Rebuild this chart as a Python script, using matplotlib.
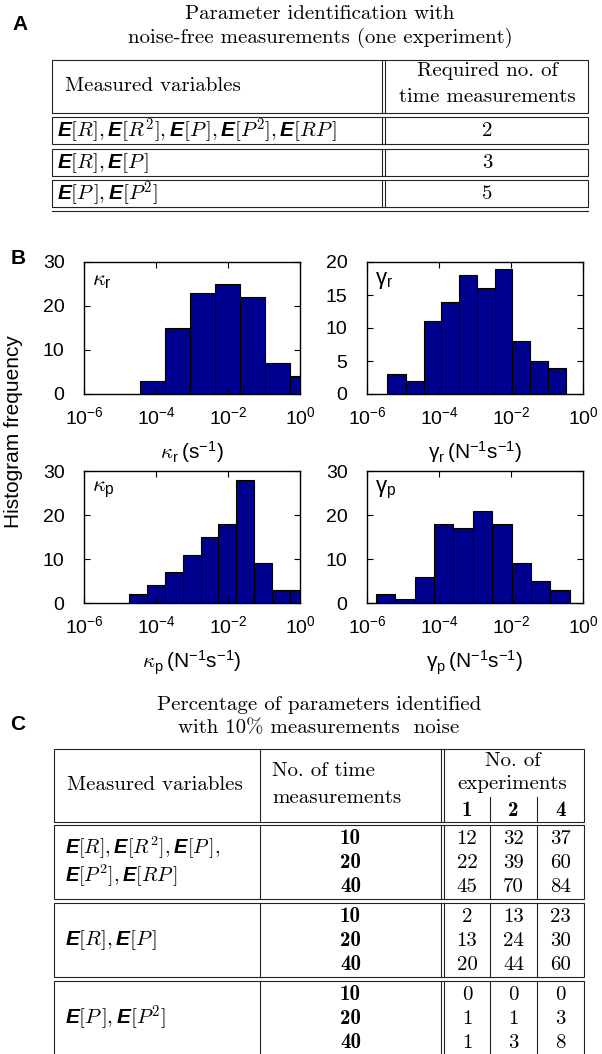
import numpy as np
import matplotlib
matplotlib.use("Agg")
import matplotlib.pyplot as plt
from matplotlib.patches import Rectangle
from matplotlib.ticker import NullLocator

# fonts: sans for the histograms, computer modern for the tables
plt.rcParams["font.family"] = "Liberation Sans"
plt.rcParams["mathtext.fontset"] = "dejavusans"
plt.rcParams["mathtext.rm"] = "cmr10"
plt.rcParams["mathtext.it"] = "cmmi10"
plt.rcParams["mathtext.bf"] = "cmb10"
plt.rcParams["mathtext.sf"] = "Liberation Sans"
plt.rcParams["mathtext.bfit"] = "Liberation Sans:italic:bold"
plt.rcParams["mathtext.fallback"] = "cm"

# ---- data: table A
vars_a = [
    r"$\mathbfit{E}[R],\mathbfit{E}[R^2],\mathbfit{E}[P\,],\mathbfit{E}[P^2],\mathbfit{E}[RP\,]$",
    r"$\mathbfit{E}[R],\mathbfit{E}[P\,]$",
    r"$\mathbfit{E}[P\,],\mathbfit{E}[P^2]$",
]
req_meas = [2, 3, 5]

# ---- data: histograms (bin edges as log10 values, counts)
kr_edges = [-4.44, -3.74, -3.05, -2.35, -1.66, -0.97, -0.28, 0.42]
kr_counts = [3, 15, 23, 25, 22, 7, 4]
gr_edges = [-5.44, -4.92, -4.42, -3.94, -3.44, -2.95, -2.45, -1.96, -1.47, -0.96, -0.47]
gr_counts = [3, 2, 11, 14, 18, 16, 19, 8, 5, 4]
kp_edges = [-4.74, -4.25, -3.75, -3.26, -2.76, -2.27, -1.77, -1.27, -0.78, -0.28, 0.22]
kp_counts = [2, 4, 7, 11, 15, 18, 28, 9, 3, 3]
gp_edges = [-5.75, -5.21, -4.67, -4.14, -3.60, -3.06, -2.52, -1.98, -1.44, -0.91, -0.37]
gp_counts = [2, 1, 6, 18, 17, 21, 18, 9, 5, 3]

xtick_vals = [1e-6, 1e-4, 1e-2, 1e0]
xtick_lbls = [r"$\mathregular{10^{-6}}$", r"$\mathregular{10^{-4}}$",
              r"$\mathregular{10^{-2}}$", r"$\mathregular{10^{0}}$"]

# ---- data: table C
vars_c = [
    [r"$\mathbfit{E}[R],\mathbfit{E}[R^2],\mathbfit{E}[P\,],$", r"$\mathbfit{E}[P^2],\mathbfit{E}[RP\,]$"],
    [r"$\mathbfit{E}[R],\mathbfit{E}[P\,]$"],
    [r"$\mathbfit{E}[P\,],\mathbfit{E}[P^2]$"],
]
n_time = [10, 20, 40]
n_exp = [1, 2, 4]
pct = [
    [[12, 32, 37], [22, 39, 60], [45, 70, 84]],
    [[2, 13, 23], [13, 24, 30], [20, 44, 60]],
    [[0, 0, 0], [1, 1, 3], [1, 3, 8]],
]

W, H = 602, 1054
FS = 15
BAR = "#00008f"
LC = "#222222"

fig = plt.figure(figsize=(W / 100, H / 100), dpi=100)
ax0 = fig.add_axes([0, 0, 1, 1])
ax0.set_xlim(0, W)
ax0.set_ylim(H, 0)
ax0.axis("off")


def box(x0, y0, x1, y1):
    ax0.add_patch(Rectangle((x0, y0), x1 - x0, y1 - y0, fill=False, ec=LC, lw=0.8))


def vline(x, y0, y1):
    ax0.plot([x, x], [y0, y1], color=LC, lw=0.8)


def cm_text(x, y, s, ha="left", bold=False):
    ax0.text(x, y, s, ha=ha, va="center", fontsize=FS,
             fontfamily="cmb10" if bold else "cmr10")


def math_text(x, y, s, ha="left", size=FS):
    ax0.text(x, y, s, ha=ha, va="center", fontsize=size, math_fontfamily="custom")


# panel letters
for lbl, (x, y) in zip("ABC", [(20, 25), (18, 259), (18, 724)]):
    ax0.text(x, y, lbl, ha="center", va="center", fontsize=15, fontweight="bold")

# ---- table A
cm_text(320, 14, "Parameter identification with", ha="center")
cm_text(320, 38, "noise-free measurements (one experiment)", ha="center")
aL, aR, aD = 52, 588, 382
box(aL, 60, aR, 113)
vline(aD, 60, 113)
vline(aD + 3, 60, 113)
cm_text(65, 86, "Measured variables")
cm_text(487, 71, "Required no. of", ha="center")
cm_text(487, 97, "time measurements", ha="center")
row_tops = [117, 149, 180]
for i, (v, n) in enumerate(zip(vars_a, req_meas)):
    t = row_tops[i]
    box(aL, t, aR, t + 27)
    vline(aD, t, t + 27)
    vline(aD + 3, t, t + 27)
    math_text(57, t + 14, v)
    cm_text(487, t + 14, str(n), ha="center")
ax0.plot([aL, aR], [211, 211], color=LC, lw=0.8)

# ---- table C
cm_text(319, 705, "Percentage of parameters identified", ha="center")
cm_text(319, 728, "with 10% measurements  noise", ha="center")
cL, c1, cD, s1, s2, cR = 54, 260, 441, 490, 537, 584
box(cL, 749, cR, 822)
vline(c1, 749, 822)
vline(cD, 749, 822)
vline(cD + 3, 749, 822)
vline(s1, 797, 822)
vline(s2, 797, 822)
cm_text(67, 785, "Measured variables")
cm_text(272, 771, "No. of time")
cm_text(272, 798, "measurements")
cm_text((cD + cR) / 2, 761, "No. of", ha="center")
cm_text((cD + cR) / 2, 784, "experiments", ha="center")
sub_x = [(cD + 3 + s1) / 2, (s1 + s2) / 2, (s2 + cR) / 2]
for x, e in zip(sub_x, n_exp):
    cm_text(x, 810, str(e), ha="center", bold=True)

grp_tops = [825, 903, 981]
for g, top in enumerate(grp_tops):
    bot = top + 74
    box(cL, top, cR, bot)
    for x in [c1, cD, cD + 3, s1, s2]:
        vline(x, top, bot)
    lines = vars_c[g]
    if len(lines) == 2:
        math_text(65, top + 23, lines[0], size=14.5)
        math_text(65, top + 51, lines[1], size=14.5)
    else:
        math_text(65, top + 37, lines[0])
    for r, nt in enumerate(n_time):
        y = top + 14 + 24 * r
        cm_text((c1 + cD) / 2, y, str(nt), ha="center", bold=True)
        for x, v in zip(sub_x, pct[g][r]):
            cm_text(x, y, str(v), ha="center")


# ---- histograms
def hist_panel(px, py, edges, counts, yticks, tag, xlabel):
    ax = fig.add_axes([px / W, 1 - (py + 132) / H, 216 / W, 132 / H])
    e = 10.0 ** np.array(edges)
    ax.bar(e[:-1], counts, width=e[1:] - e[:-1], align="edge",
           color=BAR, edgecolor="k", lw=0.8)
    ax.set_xscale("log")
    ax.set_xlim(1e-6, 1)
    ax.set_ylim(0, yticks[-1])
    ax.set_xticks(xtick_vals)
    ax.set_xticklabels(xtick_lbls)
    ax.xaxis.set_minor_locator(NullLocator())
    ax.set_yticks(yticks)
    ax.tick_params(direction="in", top=True, right=True, length=4, labelsize=14)
    ax.tick_params(axis="y", pad=14)
    ax.tick_params(axis="x", pad=9)
    for s in ax.spines.values():
        s.set_linewidth(1.0)
    ax.text(0.035, 0.86, tag, transform=ax.transAxes, fontsize=16,
            va="center", math_fontfamily="custom")
    ax.set_xlabel(xlabel, fontsize=15, labelpad=8, math_fontfamily="custom")
    return ax


hist_panel(84, 262, kr_edges, kr_counts, [0, 10, 20, 30],
           r"$\kappa_\mathsf{r}$", r"$\kappa_\mathsf{r}\,\mathsf{(s^{-1})}$")
hist_panel(367, 262, gr_edges, gr_counts, [0, 5, 10, 15, 20],
           r"$\mathsf{\gamma_r}$", r"$\mathsf{\gamma_r\,(N^{-1}s^{-1})}$")
hist_panel(84, 471, kp_edges, kp_counts, [0, 10, 20, 30],
           r"$\kappa_\mathsf{p}$", r"$\kappa_\mathsf{p}\,\mathsf{(N^{-1}s^{-1})}$")
hist_panel(367, 471, gp_edges, gp_counts, [0, 10, 20, 30],
           r"$\mathsf{\gamma_p}$", r"$\mathsf{\gamma_p\,(N^{-1}s^{-1})}$")

ax0.text(14, 432, "Histogram frequency", rotation=90, ha="center", va="center", fontsize=15)

fig.savefig("out.png", dpi=100)
